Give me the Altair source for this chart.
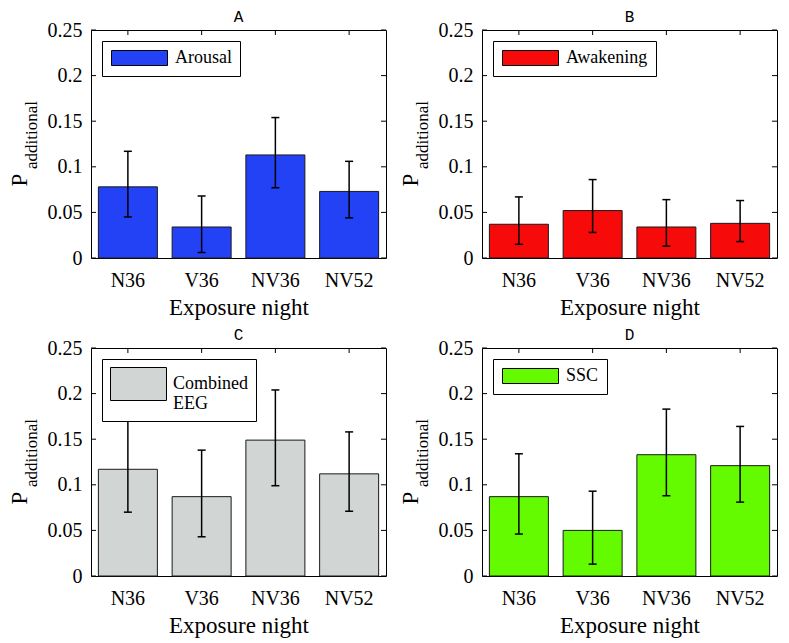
import altair as alt
import pandas as pd

NIGHTS = ["N36", "V36", "NV36", "NV52"]
YTICKS = [0, 0.05, 0.1, 0.15, 0.2, 0.25]

# Panel A - Arousal
A_MEAN = [0.078, 0.034, 0.113, 0.073]
A_LO = [0.045, 0.006, 0.077, 0.044]
A_HI = [0.117, 0.068, 0.154, 0.106]
# Panel B - Awakening
B_MEAN = [0.037, 0.052, 0.034, 0.038]
B_LO = [0.015, 0.028, 0.013, 0.018]
B_HI = [0.067, 0.086, 0.064, 0.063]
# Panel C - Combined EEG
C_MEAN = [0.117, 0.087, 0.149, 0.112]
C_LO = [0.070, 0.043, 0.099, 0.071]
C_HI = [0.170, 0.138, 0.204, 0.158]
# Panel D - SSC
D_MEAN = [0.087, 0.050, 0.133, 0.121]
D_LO = [0.046, 0.013, 0.088, 0.081]
D_HI = [0.134, 0.093, 0.183, 0.164]

SERIF = "Liberation Serif"
MONO = "Liberation Mono"
SWATCH_W = 56


def panel(letter, name, color, mean, lo, hi, W, H, label_expr=None, sw_h=15):
    df = pd.DataFrame({"night": NIGHTS, "p": mean, "lo": lo, "hi": hi, "series": name})
    tick_df = pd.DataFrame({"v": YTICKS})
    yscale = alt.Scale(domain=[0, 0.25], nice=False, zero=True)
    xscale = alt.Scale(domain=NIGHTS, paddingInner=0.2, paddingOuter=0.1)
    xaxis = alt.Axis(title="Exposure night", labelAngle=0, ticks=False, tickSize=0,
                     domain=False, labelPadding=12, titlePadding=6,
                     labelFont=SERIF, labelFontSize=20, labelColor="black",
                     titleFont=SERIF, titleFontSize=23, titleFontWeight="normal",
                     titleColor="black")
    yaxis = alt.Axis(title=None, values=YTICKS, format="~g", ticks=False, tickSize=0,
                     domain=False, grid=False, labelFlush=False, labelOverlap=False,
                     labelPadding=9, labelFont=SERIF, labelFontSize=20, labelColor="black")

    def X(f="night"):
        return alt.X(f"{f}:N", sort=NIGHTS, scale=xscale, axis=xaxis)

    def Y(f):
        return alt.Y(f"{f}:Q", scale=yscale, axis=yaxis)

    # legend swatch: symbol box is sw_h square, path stretched to the right
    right = round(2 * SWATCH_W / sw_h - 1, 4)
    legend_kw = dict(title=None, orient="top-left", offset=11, padding=8,
                     strokeColor="black", fillColor="white", cornerRadius=0,
                     labelFont=SERIF, labelFontSize=18, labelColor="black",
                     labelOffset=6 + (SWATCH_W - sw_h), labelLimit=300,
                     symbolType=f"M-1,-1H{right}V1H-1Z", symbolSize=sw_h * sw_h,
                     symbolStrokeColor="black", symbolStrokeWidth=1, symbolOpacity=1)
    if label_expr:
        legend_kw["labelExpr"] = label_expr

    base = alt.Chart(df)
    left_ticks = alt.Chart(tick_df).mark_rule(color="black", strokeWidth=1).encode(
        y=Y("v"), x=alt.value(0), x2=alt.value(5))
    right_ticks = alt.Chart(tick_df).mark_rule(color="black", strokeWidth=1).encode(
        y=Y("v"), x=alt.value(W - 5), x2=alt.value(W))
    top_ticks = base.mark_rule(color="black", strokeWidth=1).encode(
        x=X(), y=alt.value(0), y2=alt.value(5))
    bars = base.mark_bar(stroke="#1a1a1a", strokeWidth=1, opacity=1).encode(
        x=X(), y=Y("p"),
        color=alt.Color("series:N", scale=alt.Scale(domain=[name], range=[color]),
                        legend=alt.Legend(**legend_kw)))
    err = base.mark_rule(color="black", strokeWidth=1.5).encode(
        x=X(), y=Y("lo"), y2="hi:Q")
    cap_lo = base.mark_tick(color="black", size=8, thickness=1.5, opacity=1).encode(x=X(), y=Y("lo"))
    cap_hi = base.mark_tick(color="black", size=8, thickness=1.5, opacity=1).encode(x=X(), y=Y("hi"))
    ptxt = alt.Chart(pd.DataFrame({"t": ["P"]})).mark_text(
        angle=270, align="center", baseline="alphabetic", font=SERIF, fontSize=23,
        color="black").encode(text="t:N", x=alt.value(-64), y=alt.value(round(0.66 * H)))
    stxt = alt.Chart(pd.DataFrame({"t": ["additional"]})).mark_text(
        angle=270, align="center", baseline="alphabetic", font=SERIF, fontSize=17,
        color="black").encode(text="t:N", x=alt.value(-54), y=alt.value(round(0.46 * H)))

    return alt.layer(left_ticks, right_ticks, top_ticks, bars, err, cap_lo, cap_hi,
                     ptxt, stxt).properties(
        width=W, height=H,
        title=alt.TitleParams(letter, font=MONO, fontSize=16, fontWeight="normal",
                              offset=-5, color="black"))


H = 228
pA = panel("A", "Arousal", "#2442F5", A_MEAN, A_LO, A_HI, 295, H)
pB = panel("B", "Awakening", "#F70A0A", B_MEAN, B_LO, B_HI, 295, H)
pC = panel("C", "Combined EEG", "#D1D6D4", C_MEAN, C_LO, C_HI, 295, H,
           label_expr="['Combined', 'EEG']", sw_h=33)
pD = panel("D", "SSC", "#64FB00", D_MEAN, D_LO, D_HI, 295, H)

res = dict(color="independent", x="independent", y="independent")
row1 = alt.hconcat(pA, pB, spacing=12).resolve_scale(**res).resolve_legend(color="independent")
row2 = alt.hconcat(pC, pD, spacing=12).resolve_scale(**res).resolve_legend(color="independent")
chart = alt.vconcat(row1, row2, spacing=6).resolve_scale(**res).resolve_legend(
    color="independent").properties(padding=0, background="white").configure(
    style={"guide-label": {"lineHeight": 20}}).configure_view(
    stroke="black", strokeWidth=1).configure_axis(
    labelFont=SERIF, labelFontSize=20, labelColor="black",
    titleFont=SERIF, titleFontSize=23, titleFontWeight="normal", titleColor="black")

chart.save("out.html", embed_options={"renderer": "svg", "actions": False})
